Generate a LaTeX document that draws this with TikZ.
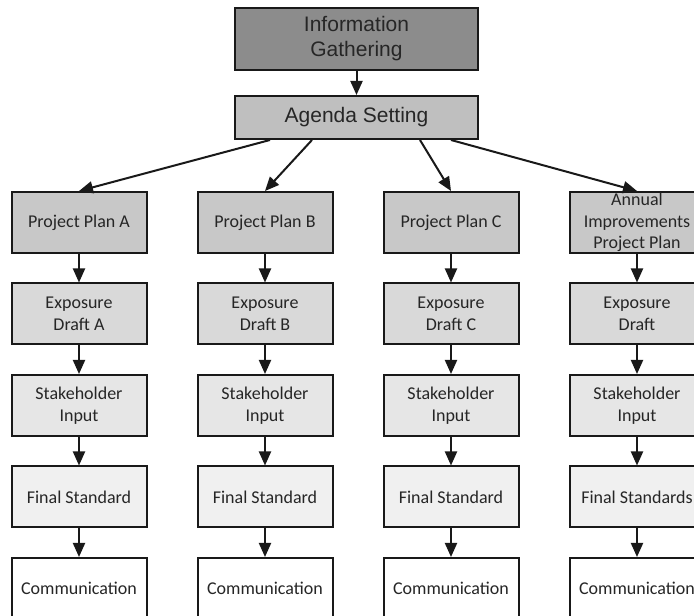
\documentclass[tikz,border=0pt]{standalone}
\usepackage{fontspec}
\setmainfont{Carlito}
\newfontfamily\headfont{Liberation Sans}
\usetikzlibrary{calc}
\usetikzlibrary{arrows.meta}
\definecolor{gatherfill}{HTML}{8C8C8C}
\definecolor{agendafill}{HTML}{BFBFBF}
\definecolor{planfill}{HTML}{C8C8C8}
\definecolor{draftfill}{HTML}{D9D9D9}
\definecolor{inputfill}{HTML}{E6E6E6}
\definecolor{finalfill}{HTML}{F0F0F0}

\tikzset{
    stagebox/.style={draw=black!90, line width=2pt, minimum width=135pt, minimum height=61pt, inner sep=0pt, align=center, text=black!85, font=\fontsize{18}{21.5}\selectfont},
    headbox/.style={stagebox, minimum width=243pt, font=\headfont\fontsize{21}{25}\selectfont},
    flow/.style={line width=2pt, draw=black!90, -{Triangle[length=14pt,width=12pt]}}
}

\begin{document}
\begin{tikzpicture}[x=1pt,y=1pt]
    \useasboundingbox (0,0) rectangle (694,616);
    \node[headbox, fill=gatherfill, minimum height=62pt] (info) at (356.5,577) {Information\\Gathering};
    \node[headbox, fill=agendafill, minimum height=43pt] (agenda) at (356.5,498.5) {Agenda Setting};
    \draw[flow] (info) -- (agenda);

    \foreach \c/\x/\plan/\draft/\final in {a/79/{Project Plan A}/{Exposure\\Draft A}/{Final Standard},
                                           b/265/{Project Plan B}/{Exposure\\Draft B}/{Final Standard},
                                           c/451/{Project Plan C}/{Exposure\\Draft C}/{Final Standard},
                                           d/637/{Annual\\Improvements\\Project Plan}/{Exposure\\Draft}/{Final Standards}}{
        \node[stagebox, fill=planfill] (plan\c) at (\x,393.5) {\plan};
        \node[stagebox, fill=draftfill] (draft\c) at (\x,302) {\draft};
        \node[stagebox, fill=inputfill] (input\c) at (\x,210.5) {Stakeholder\\Input};
        \node[stagebox, fill=finalfill] (final\c) at (\x,119) {\final};
        \node[stagebox, fill=white] (comm\c) at (\x,27.5) {Communication};
        \draw[flow] (plan\c) -- (draft\c);
        \draw[flow] (draft\c) -- (input\c);
        \draw[flow] (input\c) -- (final\c);
        \draw[flow] (final\c) -- (comm\c);
    }

    \foreach \c/\dx in {a/-86.5,b/-44.5,c/63.5,d/94.5}{
        \draw[flow] ($(agenda.south)+(\dx,0)$) -- (plan\c.north);
    }
\end{tikzpicture}
\end{document}
